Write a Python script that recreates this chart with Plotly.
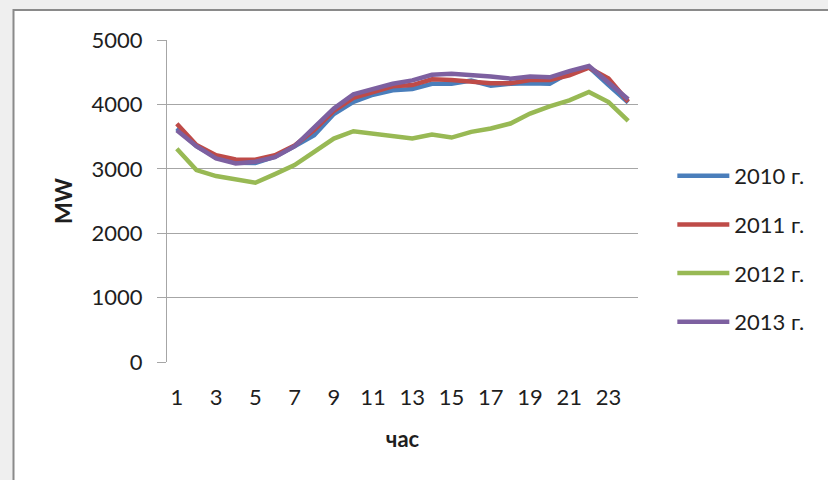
import plotly.graph_objects as go

hours = list(range(1, 25))
tick_vals = list(range(1, 24, 2))
y_ticks = [0, 1000, 2000, 3000, 4000, 5000]

s2010 = [3630, 3350, 3180, 3095, 3090, 3190, 3350, 3520, 3850, 4040, 4150, 4220,
         4240, 4320, 4320, 4370, 4290, 4320, 4330, 4320, 4490, 4580, 4300, 4030]
s2011 = [3700, 3370, 3210, 3145, 3140, 3210, 3360, 3600, 3900, 4100, 4190, 4280,
         4300, 4390, 4380, 4350, 4330, 4330, 4380, 4380, 4450, 4570, 4400, 4040]
s2012 = [3310, 2980, 2887, 2836, 2784, 2918, 3057, 3264, 3470, 3583, 3548, 3496,
         3470, 3532, 3485, 3573, 3625, 3703, 3858, 3970, 4064, 4192, 4037, 3743]
s2013 = [3600, 3350, 3160, 3083, 3110, 3180, 3350, 3640, 3935, 4156, 4233, 4320,
         4373, 4460, 4477, 4460, 4435, 4400, 4435, 4420, 4517, 4595, 4345, 4080]

series = [("2010 г.", s2010, "#4a7ebb"), ("2011 г.", s2011, "#be4b48"),
          ("2012 г.", s2012, "#98b954"), ("2013 г.", s2013, "#7d60a0")]

FONT = "Lato, 'Open Sans', sans-serif"
TXT = "#1e1e1e"

fig = go.Figure()
for name, vals, color in series:
    fig.add_trace(go.Scatter(x=hours, y=vals, mode="lines", name=name,
                             legendgroup=name,
                             line=dict(color=color, width=4.5)))

fig.update_layout(
    width=828, height=480,
    margin=dict(l=167, r=190, t=40, b=118),
    paper_bgcolor="#efefef",
    plot_bgcolor="rgba(0,0,0,0)",
    font=dict(family=FONT, size=22, color=TXT),
    showlegend=True,
    legend=dict(xref="container", yref="container", x=0.812, y=0.677,
                xanchor="left", yanchor="top", itemwidth=52,
                font=dict(family=FONT, size=22, color=TXT),
                tracegroupgap=17, bgcolor="rgba(0,0,0,0)"),
    shapes=[dict(type="rect", xref="paper", yref="paper",
                 x0=(13.5 - 167) / 471, x1=1.42, y0=-0.4, y1=(362 - 10) / 322,
                 fillcolor="white", line=dict(color="#8a8a8a", width=2),
                 layer="below")],
)

fig.update_xaxes(range=[0.5, 24.5], tickvals=tick_vals, showgrid=False,
                 zeroline=False, showline=False, ticks="",
                 ticklabelstandoff=20,
                 tickfont=dict(family=FONT, size=22, color=TXT),
                 title=dict(text="<b>час</b>", standoff=22,
                            font=dict(family=FONT, size=22, color=TXT)))
fig.update_yaxes(range=[0, 5000], tickvals=y_ticks, showgrid=True,
                 gridcolor="#a6a6a6", gridwidth=1.3, zeroline=False,
                 showline=True, linecolor="#a6a6a6", linewidth=1.3,
                 ticks="outside", ticklen=9, tickcolor="#a6a6a6", tickwidth=1.3,
                 ticklabelstandoff=10,
                 tickfont=dict(family=FONT, size=22, color=TXT),
                 title=dict(text="<b>MW</b>", standoff=12,
                            font=dict(family=FONT, size=23, color=TXT)))

fig.write_html("out.html", config={"displayModeBar": False},
               post_script="document.body.style.margin='0';"
                           "document.body.style.background='#efefef';")
